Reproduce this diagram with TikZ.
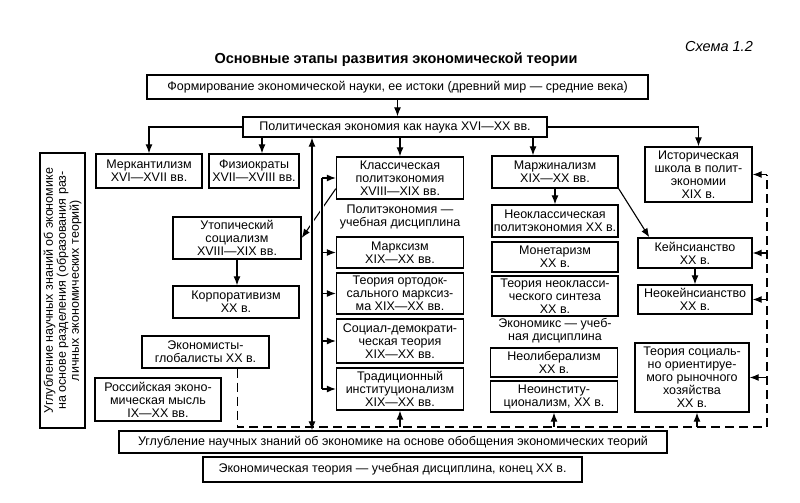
\documentclass[tikz,border=0pt]{standalone}
\usepackage{fontspec}
\setmainfont{Liberation Sans}
\usetikzlibrary{arrows.meta}
\newcommand\lineBox{1.4pt}
\newcommand\lineLink{1.1pt}
\newcommand\tipLink{Latex[length=9pt,width=7pt]}
\tikzset{
	box/.style 2 args={draw, line width=\lineBox, minimum width=#1, minimum height=#2,
		inner sep=0pt, align=center, font=\fontsize{12.5}{13}\selectfont},
	plaintext/.style={inner sep=0pt, align=center, font=\fontsize{12.5}{13}\selectfont},
	link/.style={line width=\lineLink, -{\tipLink}},
	dashlink/.style={line width=\lineLink, dash pattern=on 9pt off 5pt},
}
\begin{document}
\begin{tikzpicture}[x=1pt, y=-1pt]
	\useasboundingbox (0,0) rectangle (800,503);

	% title
	\node[font=\bfseries\fontsize{14.5}{16}\selectfont] (title) at (396,60) {Основные этапы развития экономической теории};
	\node[font=\itshape\fontsize{14.5}{16}\selectfont] (schemeNo) at (719,47) {Схема 1.2};

	% top
	\node[box={501pt}{24pt}] (origins) at (397.5,87) {Формирование экономической науки, ее истоки (древний мир — средние века)};
	\node[box={304pt}{20pt}] (politEcon) at (395,127) {Политическая экономия как наука XVI—XX вв.};

	% left part
	\node[box={275pt}{45pt}, rotate=90] (division) at (62.5,290.5) {Углубление научных знаний об экономике\\на основе разделения (образования раз-\\личных экономических теорий)};
	\node[box={106pt}{34pt}] (mercant) at (149,171) {Меркантилизм\\XVI—XVII вв.};
	\node[box={90pt}{34pt}] (physio) at (254,171) {Физиократы\\XVII—XVIII вв.};
	\node[box={128pt}{42pt}] (utopia) at (237,238) {Утопический\\социализм\\XVIII—XIX вв.};
	\node[box={126pt}{32pt}] (corporat) at (236,302) {Корпоративизм\\XX в.};
	\node[box={127pt}{32pt}] (globalist) at (205.5,352) {Экономисты-\\глобалисты XX в.};
	\node[box={126pt}{43pt}] (russian) at (158,399.5) {Российская эконо-\\мическая мысль\\IX—XX вв.};

	% classical column
	\node[box={127pt}{42pt}] (classic) at (400,178) {Классическая\\политэкономия\\XVIII—XIX вв.};
	\node[plaintext] (politCourse) at (400,217) {Политэкономия —\\учебная дисциплина};
	\node[box={127pt}{31pt}] (marxism) at (400,252.5) {Марксизм\\XIX—XX вв.};
	\node[box={127pt}{41pt}] (orthodox) at (400,293.5) {Теория ортодок-\\сального марксиз-\\ма XIX—XX вв.};
	\node[box={127pt}{44pt}] (socdem) at (400,341) {Социал-демократи-\\ческая теория\\XIX—XX вв.};
	\node[box={127pt}{42pt}] (tradInst) at (400,389) {Традиционный\\институционализм\\XIX—XX вв.};

	% marginalism column
	\node[box={126pt}{32pt}] (margin) at (555,172) {Маржинализм\\XIX—XX вв.};
	\node[box={126pt}{32pt}] (neoclass) at (555,221) {Неоклассическая\\политэкономия XX в.};
	\node[box={126pt}{30pt}] (monetar) at (555,257) {Монетаризм\\XX в.};
	\node[box={126pt}{40pt}] (synthesis) at (555,296) {Теория неокласси-\\ческого синтеза\\XX в.};
	\node[plaintext] (econCourse) at (555,331) {Экономикс — учеб-\\ная дисциплина};
	\node[box={127pt}{29pt}] (neolib) at (554,362.5) {Неолиберализм\\XX в.};
	\node[box={127pt}{31pt}] (neoInst) at (554,396.5) {Неоинститу-\\ционализм, XX в.};

	% right column
	\node[box={107pt}{55pt}] (historic) at (698.5,174.5) {Историческая\\школа в полит-\\экономии\\XIX в.};
	\node[box={114pt}{30pt}] (keynes) at (695,253) {Кейнсианство\\XX в.};
	\node[box={114pt}{29pt}] (neokeynes) at (695,299.5) {Неокейнсианство\\XX в.};
	\node[box={114pt}{69pt}] (socMarket) at (692,377.5) {Теория социаль-\\но ориентируе-\\мого рыночного\\хозяйства\\XX в.};

	% bottom
	\node[box={548pt}{22pt}] (synthesisAll) at (393,442) {Углубление научных знаний об экономике на основе обобщения экономических теорий};
	\node[box={379pt}{25pt}] (modern) at (392.5,469.5) {Экономическая теория — учебная дисциплина, конец XX в.};

	\coordinate (spine) at (312,0);
	\coordinate (brace) at (322,0);
	\coordinate (dashBase) at (0,427);
	\coordinate (dashSide) at (767,0);

	% arrows from the top
	\draw[link] (origins.south) -- (origins.south |- politEcon.north);
	\draw[link] (politEcon.west) -| (mercant.north);
	\draw[link] ([xshift=8pt]physio.north |- politEcon.south) -- ([xshift=8pt]physio.north);
	\draw[link] (classic.north |- politEcon.south) -- (classic.north);
	\draw[link] ([xshift=-22pt]margin.north |- politEcon.south) -- ([xshift=-22pt]margin.north);
	\draw[link] (politEcon.east) -| (historic.north);

	% classical branch
	\draw[link] ([yshift=11pt]classic.south west) -- (utopia.east);
	\foreach \crd in {spine,brace}{
		\draw[white, line width=4pt] (\crd |- classic.south) -- (\crd |- marxism.north);
	}
	\draw[line width=\lineLink, {\tipLink}-{\tipLink}] (spine |- politEcon.south) -- (spine |- synthesisAll.north);
	\draw[line width=\lineLink] (brace |- classic.west) -- (brace |- tradInst.west);
	\foreach \nd in {classic,marxism,orthodox,socdem,tradInst}{
		\draw[link] (brace |- \nd.west) -- (\nd.west);
	}
	\draw[link] (utopia.south) -- (utopia.south |- corporat.north);

	% marginalism branch
	\draw[link] (margin.south) -- (neoclass.north);
	\draw[link] (margin.south east) -- ([xshift=12pt]keynes.north west);
	\draw[link] (keynes.south) -- (keynes.south |- neokeynes.north);

	% dashed feedback
	\draw[dashlink] ([xshift=32pt]globalist.south) |- (dashSide |- dashBase) -- (dashSide |- historic.east);
	\foreach \nd in {historic,keynes,neokeynes,socMarket}{
		\draw[link] (dashSide |- \nd.east) -- (\nd.east);
	}
	\foreach \nd in {tradInst,neoInst}{
		\draw[link] (\nd.south |- dashBase) -- (\nd.south);
	}
	\draw[link] ([xshift=5pt]socMarket.south |- dashBase) -- ([xshift=5pt]socMarket.south);
\end{tikzpicture}
\end{document}
